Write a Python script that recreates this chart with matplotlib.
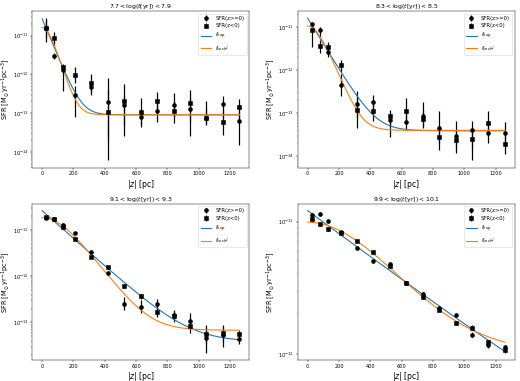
import numpy as np
import matplotlib
matplotlib.use('Agg')
import matplotlib.pyplot as plt

########################################
# data

z = np.array([26, 79, 131, 210, 315, 420, 525, 630, 735, 840, 945, 1050, 1155, 1260])

titles = [r'$7.7 < \log(t[{\rm yr}]) < 7.9$',
          r'$8.3 < \log(t[{\rm yr}]) < 8.5$',
          r'$9.1 < \log(t[{\rm yr}]) < 9.3$',
          r'$9.9 < \log(t[{\rm yr}]) < 10.1$']

# panel 1
p1_pos = [1.6e-11, 2.9e-12, 1.3e-12, 3.0e-13, 4.6e-13, 1.9e-13, 1.6e-13, 7.8e-14, 1.1e-13, 1.6e-13, 1.25e-13, 7.5e-14, 1.7e-13, 6.2e-14]
p1_pos_lo = [7e-12, 2.5e-12, 3.8e-13, 8e-14, 3e-13, 6e-15, 2.5e-14, 4.5e-14, 6e-14, 8e-14, 2.5e-14, 5e-14, 8e-14, 1.5e-14]
p1_pos_hi = [2.8e-11, 3.5e-12, 1.7e-12, 5e-13, 6e-13, 4e-13, 3e-13, 1.3e-13, 1.8e-13, 3.2e-13, 2.5e-13, 1.3e-13, 2.7e-13, 1.2e-13]
p1_neg = [1.55e-11, 8.5e-12, 1.55e-12, 9.5e-13, 5.8e-13, 1.05e-13, 2.1e-13, 1.05e-13, 2.0e-13, 1.15e-13, 1.85e-13, 7.6e-14, 6.0e-14, 1.4e-13]
p1_neg_lo = [9e-12, 5e-12, 1.2e-12, 6e-13, 3.5e-13, 2e-14, 5e-14, 5e-14, 1e-13, 5.5e-14, 6e-14, 5.5e-14, 2.7e-14, 6e-14]
p1_neg_hi = [2.5e-11, 1.2e-11, 1.8e-12, 1.5e-12, 1.0e-12, 8e-13, 5.5e-13, 2.5e-13, 3.5e-13, 2e-13, 4e-13, 2e-13, 1.2e-13, 2.3e-13]

# panel 2
p2_pos = [1.15e-11, 8.4e-12, 2.6e-12, 4.5e-13, 1.6e-13, 1.8e-13, 7.0e-14, 6.3e-14, 8.5e-14, 4.5e-14, 2.9e-14, 4.1e-14, 3.4e-14, 3.4e-14]
p2_pos_lo = [8e-12, 6e-12, 2e-12, 2.5e-13, 8e-14, 1.2e-13, 2.8e-14, 4e-14, 4.5e-14, 2e-14, 1.2e-14, 1.5e-14, 2e-14, 1.8e-14]
p2_pos_hi = [1.25e-11, 1.0e-11, 3.5e-12, 8e-13, 3.2e-13, 2.6e-13, 1.0e-13, 1.0e-13, 1.8e-13, 1.1e-13, 6.5e-14, 6.7e-14, 5e-14, 6.3e-14]
p2_neg = [8.7e-12, 3.7e-12, 3.5e-12, 1.3e-12, 1.2e-13, 1.15e-13, 8.5e-14, 1.15e-13, 7.2e-14, 2.8e-14, 2.4e-14, 2.5e-14, 6.0e-14, 1.9e-14]
p2_neg_lo = [3.5e-12, 2.5e-12, 2.5e-12, 9e-13, 4.5e-14, 6.5e-14, 5e-14, 6e-14, 5e-14, 1.4e-14, 1.5e-14, 8e-15, 3e-14, 1.1e-14]
p2_neg_hi = [1.15e-11, 5e-12, 4.5e-12, 1.7e-12, 2.2e-13, 1.8e-13, 1.2e-13, 2.3e-13, 1.2e-13, 5e-14, 4e-14, 4.5e-14, 1.15e-13, 3e-14]

# panel 3
p3_pos = [1.8e-11, 1.7e-11, 1.3e-11, 8.7e-12, 3.4e-12, 1.2e-12, 2.5e-13, 2.2e-13, 2.5e-13, 1.45e-13, 1.1e-13, 4.7e-14, 5.5e-14, 4.5e-14]
p3_pos_lo = [1.7e-11, 1.6e-11, 1.2e-11, 8.2e-12, 3.2e-12, 1.1e-12, 1.9e-13, 1.6e-13, 2e-13, 1.2e-13, 8.5e-14, 2.2e-14, 3e-14, 3.5e-14]
p3_pos_hi = [1.9e-11, 1.8e-11, 1.4e-11, 9.2e-12, 3.6e-12, 1.3e-12, 3.6e-13, 3.0e-13, 3.2e-13, 1.9e-13, 1.6e-13, 7.5e-14, 8e-14, 6e-14]
p3_neg = [1.9e-11, 1.7e-11, 1.15e-11, 6.3e-12, 2.6e-12, 1.55e-12, 6.1e-13, 3.7e-13, 1.66e-13, 1.35e-13, 8.2e-14, 5.7e-14, 5.9e-14, 5.6e-14]
p3_neg_lo = [1.8e-11, 1.6e-11, 1.1e-11, 6e-12, 2.45e-12, 1.45e-12, 5.5e-13, 3.2e-13, 1.3e-13, 1.05e-13, 6e-14, 3.5e-14, 4e-14, 4.2e-14]
p3_neg_hi = [2.0e-11, 1.8e-11, 1.2e-11, 6.6e-12, 2.75e-12, 1.65e-12, 6.8e-13, 4.2e-13, 2.1e-13, 1.7e-13, 1.1e-13, 9e-14, 9e-14, 7e-14]

# panel 4
p4_pos = [1.12e-11, 1.14e-11, 1.01e-11, 8.3e-12, 6.3e-12, 5.0e-12, 4.8e-12, 3.45e-12, 2.86e-12, 2.24e-12, 1.98e-12, 1.40e-12, 1.17e-12, 1.12e-12]
p4_neg = [1.04e-11, 9.6e-12, 8.75e-12, 8.2e-12, 7.1e-12, 5.9e-12, 4.6e-12, 3.42e-12, 2.7e-12, 2.16e-12, 1.71e-12, 1.58e-12, 1.22e-12, 1.07e-12]
p4_relerr = [0.04, 0.03, 0.03, 0.03, 0.03, 0.03, 0.03, 0.03, 0.03, 0.03, 0.03, 0.04, 0.05, 0.05]

# fitted parameters (amplitude, scale height [pc], constant)
exp_pars = [(2.7e-11, 45, 9e-14), (1.6e-11, 73, 3.9e-14), (2.6e-11, 145, 3.8e-14), (1.2e-11, 495, 1e-13)]
sech_pars = [(1.59e-11, 69, 9e-14), (1.05e-11, 100, 4e-14), (1.85e-11, 196, 6.8e-14), (8.9e-12, 500, 1e-12)]

########################################

def f_exp(zz, a, h, c):
    return a*np.exp(-zz/h) + c

def f_sech2(zz, a, h, c):
    return a/np.cosh(zz/h)**2 + c

def bounds_to_err(y, lo, hi):
    y = np.asarray(y); lo = np.asarray(lo); hi = np.asarray(hi)
    return [y - lo, hi - y]

pos_list = [(p1_pos, p1_pos_lo, p1_pos_hi), (p2_pos, p2_pos_lo, p2_pos_hi), (p3_pos, p3_pos_lo, p3_pos_hi),
            (p4_pos, np.array(p4_pos)*(1-np.array(p4_relerr)), np.array(p4_pos)*(1+np.array(p4_relerr)))]
neg_list = [(p1_neg, p1_neg_lo, p1_neg_hi), (p2_neg, p2_neg_lo, p2_neg_hi), (p3_neg, p3_neg_lo, p3_neg_hi),
            (p4_neg, np.array(p4_neg)*(1-np.array(p4_relerr)), np.array(p4_neg)*(1+np.array(p4_relerr)))]

fig, axs = plt.subplots(2, 2, figsize=(13, 9.525), dpi=40)
plt.subplots_adjust(left=0.062, right=0.99, top=0.971, bottom=0.055, wspace=0.224, hspace=0.23)

zz = np.linspace(0, 1260, 400)
for i, ax in enumerate(axs.flat):
    y, lo, hi = pos_list[i]
    e1 = ax.errorbar(z, y, yerr=bounds_to_err(y, lo, hi), fmt='ko', ms=7, elinewidth=2.2, label='SFR(z>=0)')
    y, lo, hi = neg_list[i]
    e2 = ax.errorbar(z, y, yerr=bounds_to_err(y, lo, hi), fmt='ks', ms=7, elinewidth=2.2, label='SFR(z<0)')
    l1, = ax.plot(zz, f_exp(zz, *exp_pars[i]), color='C0', lw=2, label=r'$f_{\rm exp}$')
    l2, = ax.plot(zz, f_sech2(zz, *sech_pars[i]), color='C1', lw=2, label=r'$f_{\rm sech^2}$')
    ax.set_yscale('log')
    ax.set_title(titles[i], fontsize=11, pad=4)
    ax.set_xlabel(r'$|z|$ [pc]', fontsize=14, labelpad=2)
    ax.set_ylabel(r'SFR [M$_\odot$yr$^{-1}$pc$^{-3}$]', fontsize=12, labelpad=2)
    ax.tick_params(labelsize=9)
    ax.legend(handles=[e1, e2, l1, l2], loc='upper right', fontsize=9.5)

plt.savefig('out.png', dpi=40)
